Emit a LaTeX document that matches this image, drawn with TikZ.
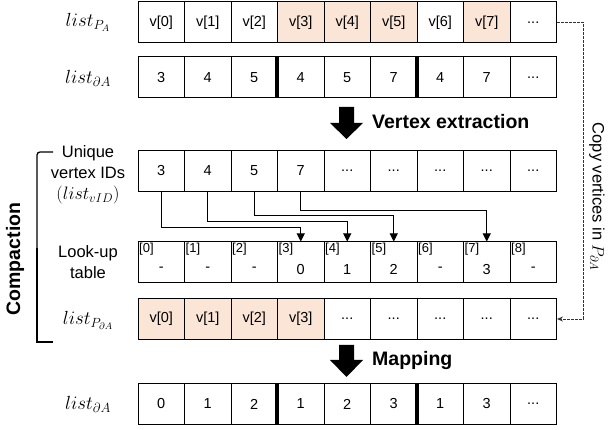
\RequirePackage{fix-cm}
\documentclass[tikz,border=0pt]{standalone}
\usepackage{fontspec}
\setmainfont{Liberation Sans}
\usetikzlibrary{arrows.meta}
\definecolor{peach}{RGB}{251,229,214}
\newcommand\cdt{...}
\begin{document}
\begin{tikzpicture}[x=1pt,y=-1pt,
  cell/.style={draw=black, line width=1pt, minimum width=46.5pt, minimum height=41pt, inner sep=0pt, font=\fontsize{14.5}{16}\selectfont},
  hl/.style={fill=peach},
  idx/.style={inner sep=1.5pt, font=\fontsize{13}{14}\selectfont},
  lbl/.style={font=\fontsize{16.5}{21}\selectfont, align=center},
  mlbl/.style={font=\fontsize{19}{22}\selectfont},
  conn/.style={line width=1pt, -{Triangle[width=8pt,length=8pt]}},
  dashconn/.style={line width=0.9pt, draw=black!80, dash pattern=on 2.5pt off 1.5pt, -{Stealth[length=6pt,width=5pt]}},
  sepbar/.style={line width=4pt},
  boldlbl/.style={inner sep=0pt, font=\bfseries\fontsize{19.5}{22}\selectfont},
  blockarrow/.style={fill=black}]
\useasboundingbox (0,0) rectangle (608,430);

% row 1: list_{P_A}
\foreach \t/\s [count=\i from 0] in {v[0]/,v[1]/,v[2]/,v[3]/hl,v[4]/hl,v[5]/hl,v[6]/,v[7]/hl,\cdt/}
  \node[cell,\s] (r1c\i) at ({161.25+46.5*\i},22.5) {\t};
% row 2: list_{dA}
\foreach \t [count=\i from 0] in {3,4,5,4,5,7,4,7,\cdt}
  \node[cell] (r2c\i) at ({161.25+46.5*\i},77.5) {\t};
\draw[sepbar] (r2c3.north west) -- (r2c3.south west);
\draw[sepbar] (r2c6.north west) -- (r2c6.south west);
% row 3: list_vID
\foreach \t [count=\i from 0] in {3,4,5,7,\cdt,\cdt,\cdt,\cdt,\cdt}
  \node[cell] (r3c\i) at ({161.25+46.5*\i},171) {\t};
% row 4: look-up table
\foreach \v [count=\i from 0] in {-,-,-,0,1,2,-,3,-}{
  \node[cell] (r4c\i) at ({161.25+46.5*\i},262.5) {};
  \node[idx, anchor=north west] (r4i\i) at (r4c\i.north west) {[\i]};
  \node[font=\fontsize{14.5}{16}\selectfont] (r4v\i) at ([yshift=-7pt]r4c\i.center) {\v};
}
% row 5: list_{P_dA}
\foreach \t/\s [count=\i from 0] in {v[0]/hl,v[1]/hl,v[2]/hl,v[3]/hl,\cdt/,\cdt/,\cdt/,\cdt/,\cdt/}
  \node[cell,\s] (r5c\i) at ({161.25+46.5*\i},319) {\t};
% row 6: list_{dA}
\foreach \t [count=\i from 0] in {0,1,2,1,2,3,1,3,\cdt}
  \node[cell] (r6c\i) at ({161.25+46.5*\i},404) {\t};
\draw[sepbar] (r6c3.north west) -- (r6c3.south west);
\draw[sepbar] (r6c6.north west) -- (r6c6.south west);

% left labels
\node[mlbl] (lPA) at (88,22) {$list_{P_A}$};
\node[mlbl] (ldA1) at (88,78) {$list_{\partial A}$};
\node[lbl] (lvid) at (88,175) {Unique\\vertex IDs\\{\fontsize{18}{21}\selectfont$(list_{vID})$}};
\node[lbl] (llut) at (88,262) {Look-up\\table};
\node[mlbl] (lPdA) at (88,320) {$list_{P_{\partial A}}$};
\node[mlbl] (ldA2) at (88,404) {$list_{\partial A}$};

% compaction bracket
\draw[line width=1.3pt, rounded corners=3pt] (53,152) -- (37,152) -- (37,250);
\draw[line width=1.3pt] (37,248) -- (37,342) -- (53,342);
\node[boldlbl, rotate=90] (comp) at (15,259) {Compaction};

% connectors vID -> look-up
\draw[conn] (r3c0.south) -- ++(0,36) -| (r4c3.north);
\draw[conn] (r3c1.south) -- ++(0,30) -| (r4c4.north);
\draw[conn] (r3c2.south) -- ++(0,24) -| (r4c5.north);
\draw[conn] (r3c3.south) -- ++(0,19) -| (r4c7.north);

% copy vertices dashed connector
\draw[dashconn] (r1c8.east) -- ++(26,0) |- (r5c8.east);
\node[rotate=-90, font=\fontsize{16.5}{20}\selectfont] (copy) at (597,197) {Copy vertices in $P_{\partial A}$};

% block arrows
\fill[blockarrow] (339,107) -- (354,107) -- (354,123) -- (363,123) -- (346.5,139) -- (330,123) -- (339,123) -- cycle;
\node[boldlbl, anchor=west] (vx) at (372,122) {Vertex extraction};
\fill[blockarrow] (339,345) -- (354,345) -- (354,360) -- (363,360) -- (346.5,377) -- (330,360) -- (339,360) -- cycle;
\node[boldlbl, anchor=west] (mp) at (372,361) {Mapping};
\end{tikzpicture}
\end{document}
